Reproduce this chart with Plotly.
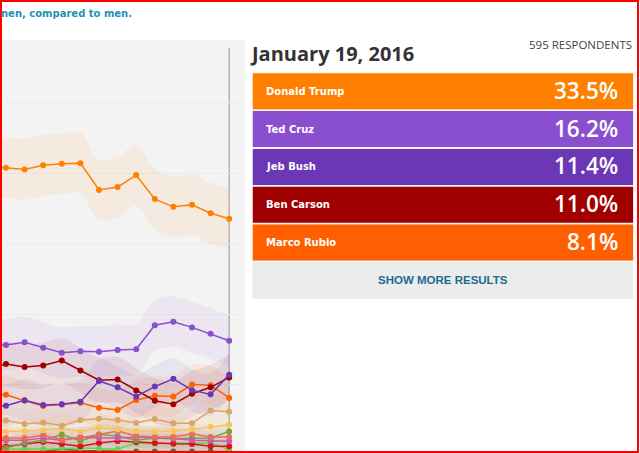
import plotly.graph_objects as go
import pandas as pd

# ---------------- data ----------------
dates = ["2015-10-20", "2015-10-27", "2015-11-03", "2015-11-10", "2015-11-17",
         "2015-11-24", "2015-12-01", "2015-12-08", "2015-12-15", "2015-12-22",
         "2015-12-29", "2016-01-05", "2016-01-12", "2016-01-19"]

trump  = [40.7, 40.75, 40.5, 41.1, 41.3, 41.4, 37.6, 38.0, 39.7, 36.3, 35.2, 35.5, 34.3, 33.5]
cruz   = [15.5, 15.6, 16.0, 15.2, 14.5, 14.7, 14.65, 14.9, 15.0, 18.4, 18.9, 18.1, 17.2, 16.2]
bush   = [7.0, 7.0, 7.75, 7.1, 7.2, 7.55, 10.5, 9.6, 8.3, 9.7, 10.8, 9.2, 8.6, 11.4]
carson = [12.2, 12.9, 12.5, 12.7, 13.4, 12.0, 10.6, 10.7, 9.15, 7.7, 7.2, 8.7, 9.6, 11.0]
rubio  = [8.6, 8.55, 7.7, 6.95, 7.15, 7.4, 6.7, 6.4, 7.8, 8.4, 8.3, 10.0, 9.9, 8.1]
tan_s  = [4.9, 4.9, 4.4, 4.6, 4.15, 4.95, 5.15, 4.95, 4.55, 5.1, 4.5, 4.5, 6.3, 6.15]
yellow = [3.3, 3.3, 3.4, 3.5, 3.8, 3.3, 3.9, 3.6, 3.4, 3.3, 3.4, 3.6, 4.0, 4.3]
salmon = [2.4, 2.4, 2.4, 2.8, 2.2, 2.4, 2.9, 3.4, 2.7, 2.55, 2.55, 3.0, 2.55, 2.55]
magenta = [2.1, 2.1, 2.1, 2.4, 2.05, 2.55, 2.4, 2.4, 2.55, 2.4, 2.35, 2.1, 2.05, 1.95]
olive  = [0.8, 1.0, 1.7, 2.1, 2.9, 2.0, 2.9, 2.7, 2.1, 2.4, 2.3, 2.4, 2.4, 3.35]
red_s  = [1.2, 1.2, 1.55, 1.85, 1.55, 1.25, 1.7, 2.0, 1.85, 1.7, 1.6, 1.55, 1.25, 1.25]
green  = [0.8, 0.8, 0.8, 0.8, 0.9, 1.0, 0.9, 0.8, 1.7, 1.6, 1.7, 1.7, 1.7, 0.75]
dkgreen = [0.5, 0.5, 0.5, 0.5, 0.8, 0.6, 0.6, 0.5, 0.5, 0.5, 0.5, 0.5, 0.5, 0.5]

# margin of error band half-widths (percentage points)
series = [
    ("dkgreen", dkgreen, "#3d7d2c", 1.2),
    ("green",   green,   "#5fd35a", 1.3),
    ("red",     red_s,   "#e0101a", 1.4),
    ("olive",   olive,   "#7da23c", 1.5),
    ("magenta", magenta, "#c65ab8", 1.5),
    ("salmon",  salmon,  "#e0725a", 1.6),
    ("yellow",  yellow,  "#f7c65a", 1.8),
    ("tan",     tan_s,   "#d9a56a", 2.0),
    ("Marco Rubio", rubio, "#ff6000", 2.8),
    ("Ben Carson",  carson, "#a00000", 3.2),
    ("Jeb Bush",    bush,   "#6b37b7", 3.0),
    ("Ted Cruz",    cruz,   "#8a4fcf", 3.6),
    ("Donald Trump", trump, "#ff8000", 4.3),
]

top_names = ["Donald Trump", "Ted Cruz", "Jeb Bush", "Ben Carson", "Marco Rubio"]
top_pcts = ["33.5%", "16.2%", "11.4%", "11.0%", "8.1%"]
top_colors = ["#ff8000", "#8a4fcf", "#6b37b7", "#a00000", "#ff5f00"]
more_label = "SHOW MORE RESULTS"
date_title = "January 19, 2016"
respondents = "595 RESPONDENTS"
intro_text = "nen, compared to men."

W, H = 640, 453
def px(x): return x / W
def py(y): return 1 - y / H

def rgba(hexc, a):
    h = hexc.lstrip("#")
    r, g, b = int(h[0:2], 16), int(h[2:4], 16), int(h[4:6], 16)
    return f"rgba({r},{g},{b},{a})"

fig = go.Figure()

# bands
for name, vals, col, m in series:
    up = [v + m for v in vals]
    lo = [max(v - m, -5) for v in vals]
    fig.add_trace(go.Scatter(x=dates, y=up, mode="lines", line=dict(width=0, shape="spline"),
                             hoverinfo="skip", showlegend=False))
    fig.add_trace(go.Scatter(x=dates, y=lo, mode="lines", line=dict(width=0, shape="spline"),
                             fill="tonexty", fillcolor=rgba(col, 0.08),
                             hoverinfo="skip", showlegend=False))

# lines
for name, vals, col, m in series:
    fig.add_trace(go.Scatter(x=dates, y=vals, mode="lines+markers", name=name,
                             line=dict(color=col, width=1.5),
                             marker=dict(color=col, size=6),
                             showlegend=False, cliponaxis=True))

# right panel rows as bars
rows = top_names + [more_label]
fig.add_trace(go.Bar(x=[1] * len(rows), y=rows, orientation="h", base=0,
                     marker=dict(color=top_colors + ["#ececec"], line=dict(width=0)),
                     width=0.952, xaxis="x2", yaxis="y2", hoverinfo="skip",
                     showlegend=False))

# x range from pixel geometry: first visible point at px 6, spacing 18.6 px/week
d0 = pd.Timestamp(dates[1])
wk = pd.Timedelta(days=7)
xr0 = d0 - wk * (6 / 18.6)
xr1 = d0 + wk * ((245 - 6) / 18.6)

ppv = 7.05   # pixels per percentage point
y_bottom = (455 - 453) / ppv
y_top = (455 - 40) / ppv

fig.update_layout(
    width=W, height=H, margin=dict(l=0, r=0, t=0, b=0),
    paper_bgcolor="white", plot_bgcolor="#f3f3f3",
    xaxis=dict(domain=[0, px(245)], range=[xr0, xr1], type="date",
               showgrid=False, zeroline=False, showticklabels=False, ticks=""),
    yaxis=dict(domain=[0, py(40)], range=[y_bottom, y_top],
               tickvals=[10, 20, 30, 40, 50], showticklabels=False,
               gridcolor="#ebebeb", gridwidth=1, zeroline=False, ticks=""),
    xaxis2=dict(domain=[px(252.5), px(633.3)], range=[0, 1], anchor="y2",
                visible=False),
    yaxis2=dict(domain=[py(299.2), py(72.4)], range=[len(rows) - 0.5, -0.5],
                type="category", anchor="x2", visible=False),
    font=dict(family="Open Sans"),
    hovermode=False,
)

shapes = [
    dict(type="line", xref="x", yref="paper", x0=dates[-1], x1=dates[-1],
         y0=0, y1=py(48), line=dict(color="#b4b4b4", width=1.5), layer="below"),
    dict(type="rect", xref="paper", yref="paper", x0=px(1), x1=px(638),
         y0=py(452), y1=py(1), line=dict(color="#ff0000", width=2), layer="above"),
]
fig.update_layout(shapes=shapes)

ann = []
for n, p in zip(top_names, top_pcts):
    ann.append(dict(x=0.03, y=n, xref="x2", yref="y2", text=n, showarrow=False,
                    xanchor="left", yanchor="middle",
                    font=dict(family="DejaVu Sans", size=10, color="white", weight="bold")))
    ann.append(dict(x=0.966, y=n, xref="x2", yref="y2", text=p, showarrow=False,
                    xanchor="right", yanchor="middle", yshift=1,
                    font=dict(family="Open Sans", size=22.5, color="white", weight=600)))
ann.append(dict(x=0.5, y=more_label, xref="x2", yref="y2", text=more_label, showarrow=False,
                xanchor="center", yanchor="middle",
                font=dict(family="Liberation Sans", size=11.5, color="#1d6b8c", weight="bold")))
ann.append(dict(x=px(247.5), y=py(53), xref="paper", yref="paper", text=date_title,
                showarrow=False, xanchor="left", yanchor="middle",
                font=dict(family="Open Sans", size=20, color="#333333", weight="bold")))
ann.append(dict(x=px(634), y=py(44), xref="paper", yref="paper", text=respondents,
                showarrow=False, xanchor="right", yanchor="middle",
                font=dict(family="Open Sans", size=11.5, color="#444444")))
ann.append(dict(x=px(-1), y=py(13), xref="paper", yref="paper", text=intro_text,
                showarrow=False, xanchor="left", yanchor="middle",
                font=dict(family="DejaVu Sans", size=10, color="#2690b4", weight="bold")))
fig.update_layout(annotations=ann)

fig.write_html("out.html", config={"displayModeBar": False},
               post_script="document.body.style.margin='0';")
